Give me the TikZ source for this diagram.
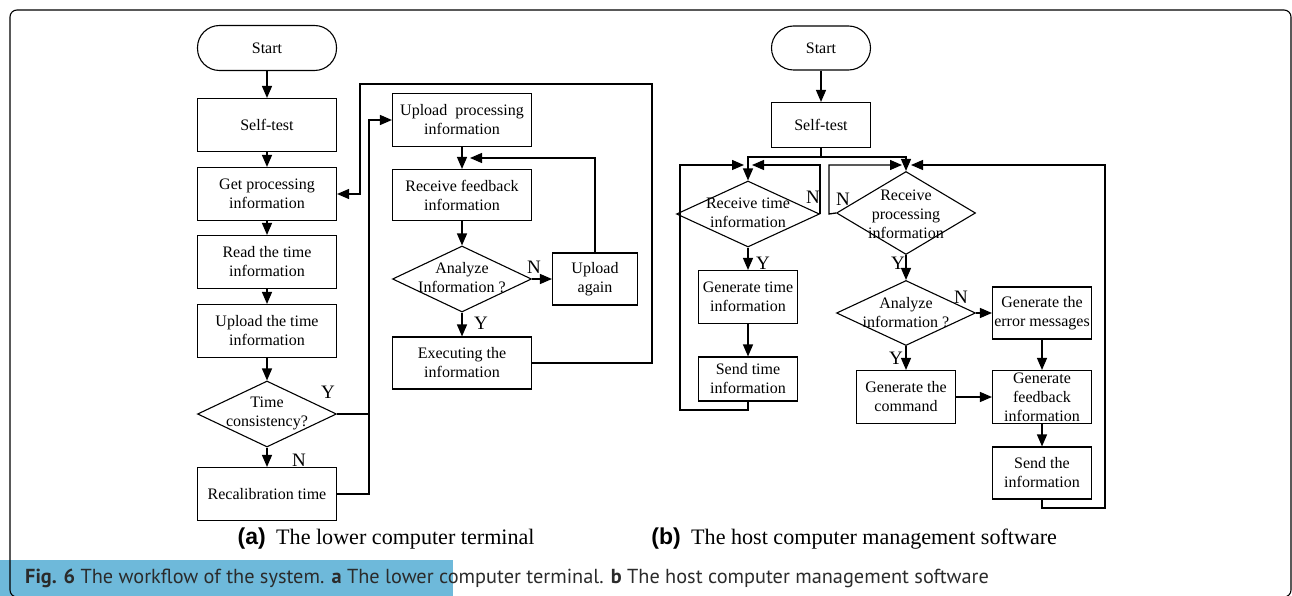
\documentclass[tikz,border=0pt]{standalone}
\usepackage{fontspec}
\setmainfont{Liberation Serif}
\newfontfamily\capfont{PT Sans}
\newfontfamily\panelfont{Liberation Sans}
\usetikzlibrary{shapes.geometric,arrows.meta}
\definecolor{capband}{HTML}{6EB9DA}
\definecolor{captext}{HTML}{2B2B2B}
\tikzset{
  flowbox/.style={draw, rectangle, line width=1.1pt, inner sep=0pt, align=center,
    minimum width=139pt, minimum height=53pt, font=\fontsize{16}{19}\selectfont},
  smallbox/.style={flowbox, minimum width=99pt},
  termbox/.style={draw, rectangle, rounded corners=22pt, line width=1.1pt, inner sep=0pt,
    minimum width=139pt, minimum height=45pt, font=\fontsize{16}{19}\selectfont},
  decision/.style={draw, diamond, line width=1.1pt, inner sep=0pt, shape aspect=2,
    minimum width=139pt, minimum height=66pt},
  dtext/.style={align=center, font=\fontsize{16}{19}\selectfont},
  yn/.style={font=\fontsize{19}{19}\selectfont, inner sep=0pt},
  flow/.style={line width=1.3pt, -{Triangle[length=12pt,width=10pt]}},
  plain/.style={line width=1.3pt},
}
\begin{document}
\begin{tikzpicture}[x=1pt,y=-1pt]
\useasboundingbox (0,0) rectangle (1292,596);

% caption band
\fill[capband] (0,560) rectangle (453,596);
\node[anchor=west, inner sep=0pt, text=captext, font=\capfont\fontsize{20.3}{22}\selectfont] (cap) at (25,578)
  {\textbf{Fig. 6} The workflow of the system. \textbf{a} The lower computer terminal. \textbf{b} The host computer management software};

% outer frame
\draw[line width=1.1pt, rounded corners=7pt] (10,10) rectangle (1291,597);

% ---------- (a) lower computer terminal ----------
\node[termbox] (startA) at (267,48) {Start};
\node[flowbox] (selfA) at (267,125) {Self-test};
\node[flowbox] (getp) at (267,194) {Get processing\\information};
\node[flowbox] (readt) at (267,262) {Read the time\\information};
\node[flowbox] (uplt) at (267,331) {Upload the time\\information};
\node[decision] (tcons) at (267,414) {};
\node[dtext] (tconsT) at (267,413) {Time\\consistency?};
\node[flowbox] (recal) at (267,494) {Recalibration time};

\node[flowbox] (uplp) at (462,120) {Upload\ \ processing\\information};
\node[flowbox, minimum height=51pt] (recv) at (462,195) {Receive feedback\\information};
\node[decision] (anA) at (462,279) {};
\node[dtext] (anAT) at (462,278) {Analyze\\Information ?};
\node[flowbox, minimum width=85pt, minimum height=52pt] (again) at (595,279) {Upload\\again};
\node[flowbox, minimum height=52pt] (exec) at (462,363) {Executing the\\information};

\node[yn] (yA1) at (328,392) {Y};
\node[yn] (nA1) at (299,460) {N};
\node[yn] (nA2) at (534,267) {N};
\node[yn] (yA2) at (481,323) {Y};

\draw[flow] (startA) -- (selfA);
\draw[flow] (selfA) -- (getp);
\draw[flow] (getp) -- (readt);
\draw[flow] (readt) -- (uplt);
\draw[flow] (uplt) -- (tcons);
\draw[flow] (tcons) -- (recal);

\coordinate (joinA) at (369,414);
\draw[flow] (tcons.east) -- (joinA) |- (uplp.west);
\draw[plain] (recal.east) -| (joinA);

\draw[flow] (uplp) -- (recv);
\draw[flow] (recv) -- (anA);
\draw[flow] (anA.east) -- (again.west);
\draw[flow] (anA.south) -- (exec.north);
\coordinate (backIn) at (470,158);
\draw[flow] (again.north) |- (backIn);

\coordinate (loopTR) at (652,84);
\coordinate (loopTL) at (360,84);
\draw[flow] (exec.east) -| (loopTR) -- (loopTL) |- (getp.east);

% panel label (a)
\node[anchor=east, inner sep=0pt, font=\panelfont\bfseries\fontsize{23}{23}\selectfont] (labA) at (266,539) {(a)};
\node[anchor=west, inner sep=0pt, font=\fontsize{22.1}{23}\selectfont] (capA) at (276,539) {The lower computer terminal};

% ---------- (b) host computer management software ----------
\node[termbox, minimum width=99pt, minimum height=44pt] (startB) at (821,48) {Start};
\node[smallbox, minimum height=45pt] (selfB) at (821,125) {Self-test};

\node[decision, minimum width=143pt] (rtime) at (748,214) {};
\node[dtext] (rtimeT) at (748,213) {Receive time\\information};
\node[smallbox] (gtime) at (748,297) {Generate time\\information};
\node[smallbox, minimum height=44pt] (stime) at (748,379) {Send time\\information};

\node[decision, minimum width=139pt, minimum height=83pt] (rproc) at (906,213) {};
\node[dtext] (rprocT) at (906,214) {Receive\\processing\\information};
\node[decision, minimum height=65pt] (anB) at (906,313) {};
\node[dtext] (anBT) at (906,313) {Analyze\\information ?};
\node[smallbox, minimum height=52pt] (gerr) at (1042,313) {Generate the\\error messages};
\node[smallbox] (gcmd) at (906,397) {Generate the\\command};
\node[smallbox] (gfb) at (1042,397) {Generate\\feedback\\information};
\node[smallbox, minimum height=52pt] (sinfo) at (1042,473) {Send the\\information};

\node[yn] (nB1) at (813,197) {N};
\node[yn] (nB2) at (843,199) {N};
\node[yn] (yB1) at (763,263) {Y};
\node[yn] (yB2) at (898,263) {Y};
\node[yn] (nB3) at (961,297) {N};
\node[yn] (yB3) at (896,358) {Y};

\draw[flow] (startB) -- (selfB);
\coordinate (split) at (821,157);
\draw[plain] (selfB.south) -- (split);
\draw[flow] (split) -| (rtime.north);
\draw[flow] (split) -| (rproc.north);

% left loops
\coordinate (loLB) at (748,410);
\coordinate (loLT) at (680,165);
\coordinate (loLin) at (744,165);
\draw[flow] (stime.south) -- (loLB) -| (loLT) -- (loLin);
\coordinate (nLin) at (752,165);
\draw[flow] (rtime.east) |- (nLin);

\draw[flow] (rtime.south) -- (gtime.north);
\draw[flow] (gtime) -- (stime);

% right loops
\coordinate (nRB) at (829,214);
\coordinate (nRin) at (902,165);
\draw[flow] (rproc.west) -- (nRB) |- (nRin);
\coordinate (loRB) at (1105,508);
\coordinate (loRT) at (1105,165);
\coordinate (loRin) at (911,165);
\draw[flow] (sinfo.south) |- (loRB) -- (loRT) -- (loRin);

\draw[flow] (rproc.south) -- (anB.north);
\draw[flow] (anB.east) -- (gerr.west);
\draw[flow] (anB.south) -- (gcmd.north);
\draw[flow] (gerr) -- (gfb);
\draw[flow] (gcmd) -- (gfb);
\draw[flow] (gfb) -- (sinfo);

% panel label (b)
\node[anchor=east, inner sep=0pt, font=\panelfont\bfseries\fontsize{23}{23}\selectfont] (labB) at (681,539) {(b)};
\node[anchor=west, inner sep=0pt, font=\fontsize{22.1}{23}\selectfont] (capB) at (691,539) {The host computer management software};
\end{tikzpicture}
\end{document}
